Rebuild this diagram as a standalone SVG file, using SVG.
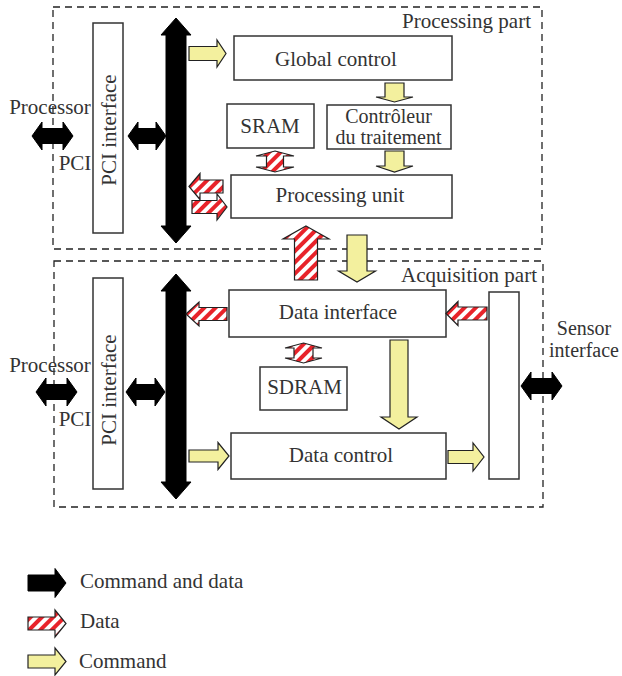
<svg xmlns="http://www.w3.org/2000/svg" width="622" height="676" viewBox="0 0 622 676">
<defs>
<pattern id="hatch" patternUnits="userSpaceOnUse" width="8" height="8" patternTransform="rotate(45)">
<rect width="8" height="8" fill="#ffffff"/>
<rect width="4" height="8" fill="#e8232a"/>
</pattern>
</defs>
<style>
text{font-family:"Liberation Serif","Times New Roman",serif;font-size:21px;fill:#333}
.mid{text-anchor:middle}
.sm{font-size:20px}
.part{fill:none;stroke:#222;stroke-width:1.3;stroke-dasharray:7 5}
.box{fill:#fff;stroke:#333;stroke-width:1.5}
.blk{fill:#000;stroke:#000;stroke-width:1}
.cmd{fill:#f3f09e;stroke:#222;stroke-width:1.2;stroke-linejoin:miter}
.dat{fill:url(#hatch);stroke:#222;stroke-width:1.2}
</style>
<rect width="622" height="676" fill="#fff"/>

<g id="processing-part">
<rect class="part" x="53" y="7" width="489" height="242"/>
<text x="531" y="28" style="text-anchor:end">Processing part</text>
</g>
<g id="acquisition-part">
<rect class="part" x="54" y="261" width="489" height="246"/>
<text x="537" y="282" style="text-anchor:end">Acquisition part</text>
</g>

<g id="pci-top">
<rect class="box" x="93" y="23" width="30" height="210"/>
<text class="mid" transform="translate(116,130) rotate(-90)">PCI interface</text>
</g>
<g id="pci-bottom">
<rect class="box" x="93" y="278" width="30" height="211"/>
<text class="mid" transform="translate(116,390) rotate(-90)">PCI interface</text>
</g>
<g id="global-control">
<rect class="box" x="234" y="36" width="218" height="44"/>
<text class="mid" x="336" y="66">Global control</text>
</g>
<g id="sram">
<rect class="box" x="227" y="104" width="87" height="44"/>
<text class="mid" x="270" y="133">SRAM</text>
</g>
<g id="controleur">
<rect class="box" x="327" y="105" width="124" height="44"/>
<text class="mid sm" x="388.5" y="123">Contrôleur</text>
<text class="mid sm" x="388.5" y="144">du traitement</text>
</g>
<g id="processing-unit">
<rect class="box" x="231" y="175" width="221" height="43"/>
<text class="mid" x="340" y="202">Processing unit</text>
</g>
<g id="data-interface">
<rect class="box" x="229" y="290" width="217" height="47"/>
<text class="mid" x="338" y="319">Data interface</text>
</g>
<g id="sdram">
<rect class="box" x="260" y="367" width="87" height="43"/>
<text class="mid" x="304.5" y="394">SDRAM</text>
</g>
<g id="data-control">
<rect class="box" x="231" y="433" width="215" height="46"/>
<text class="mid" x="341" y="462">Data control</text>
</g>
<g id="sensor-block">
<rect class="box" x="489" y="292" width="30" height="187"/>
</g>
<g id="labels">
<text class="mid" x="50" y="114">Processor</text>
<text class="mid" x="75" y="170">PCI</text>
<text class="mid" x="50" y="372">Processor</text>
<text class="mid" x="75" y="426">PCI</text>
<text class="mid sm" x="584" y="335">Sensor</text>
<text class="mid sm" x="584" y="357">interface</text>
</g>

<g id="connectors">
<path class="blk" d="M32 136 L42 122 L42 128.5 L63 128.5 L63 122 L73 136 L63 150 L63 143.5 L42 143.5 L42 150 Z"/>
<path class="blk" d="M128 136 L138 122 L138 128.5 L156 128.5 L156 122 L166 136 L156 150 L156 143.5 L138 143.5 L138 150 Z"/>
<path class="blk" d="M176 18 L191 35 L186 35 L186 226 L191 226 L176 243 L161 226 L166 226 L166 35 L161 35 Z"/>
<path class="blk" d="M176 274 L191 291 L186 291 L186 482 L191 482 L176 499 L161 482 L166 482 L166 291 L161 291 Z"/>
<path class="blk" d="M36 392 L46 378 L46 384.5 L67 384.5 L67 378 L77 392 L67 406 L67 399.5 L46 399.5 L46 406 Z"/>
<path class="blk" d="M126 392 L136 378 L136 384.5 L155 384.5 L155 378 L165 392 L155 406 L155 399.5 L136 399.5 L136 406 Z"/>
<path class="blk" d="M521 386 L531 372 L531 378.5 L552 378.5 L552 372 L562 386 L552 400 L552 393.5 L531 393.5 L531 400 Z"/>

<path class="cmd" d="M189 46.5 L217 46.5 L217 40 L226 53.5 L217 67 L217 60.5 L189 60.5 Z"/>
<path class="cmd" d="M385 83 L404 83 L404 97 L413 97 L394.5 102 L376 97 L385 97 Z"/>
<path class="cmd" d="M385 151 L404 151 L404 166 L413 166 L394.5 172 L376 166 L385 166 Z"/>
<path class="cmd" d="M347 235 L367 235 L367 271 L375.5 271 L357 282 L338.5 271 L347 271 Z"/>
<path class="cmd" d="M390 340 L408 340 L408 417 L417 417 L399 429 L381 417 L390 417 Z"/>
<path class="cmd" d="M189 450 L218 450 L218 442.5 L229 456 L218 469.5 L218 462 L189 462 Z"/>
<path class="cmd" d="M448 450.5 L473 450.5 L473 443 L484 457 L473 471 L473 463.5 L448 463.5 Z"/>

<path class="dat" d="M275 151 L294 156 L283.5 156 L283.5 167 L294 167 L275 172 L256 167 L266.5 167 L266.5 156 L256 156 Z"/>
<path class="dat" d="M189 186.5 L200 173.5 L200 180 L223 180 L223 193 L200 193 L200 199.5 Z"/>
<path class="dat" d="M192 200.5 L217 200.5 L217 194 L227 207 L217 220 L217 213.5 L192 213.5 Z"/>
<path class="dat" d="M306 226 L329 239 L317.5 239 L317.5 280 L294.5 280 L294.5 239 L283 239 Z"/>
<path class="dat" d="M186 314 L199 302 L199 307.5 L227 307.5 L227 320.5 L199 320.5 L199 326 Z"/>
<path class="dat" d="M446 313.5 L458 301.5 L458 307 L487 307 L487 320 L458 320 L458 325.5 Z"/>
<path class="dat" d="M303.5 343 L322 348 L313 348 L313 358 L322 358 L303.5 363 L285 358 L294 358 L294 348 L285 348 Z"/>
</g>

<g id="legend">
<path class="blk" d="M28 575 L55 575 L55 568.5 L66 583 L55 597.5 L55 591 L28 591 Z"/>
<text x="80" y="588">Command and data</text>
<path class="dat" d="M28 617 L55 617 L55 610 L66 623.5 L55 637 L55 630 L28 630 Z"/>
<text x="80" y="628">Data</text>
<path class="cmd" d="M28 655 L55 655 L55 648 L66 661.5 L55 675 L55 668 L28 668 Z"/>
<text x="79" y="668">Command</text>
</g>
</svg>
